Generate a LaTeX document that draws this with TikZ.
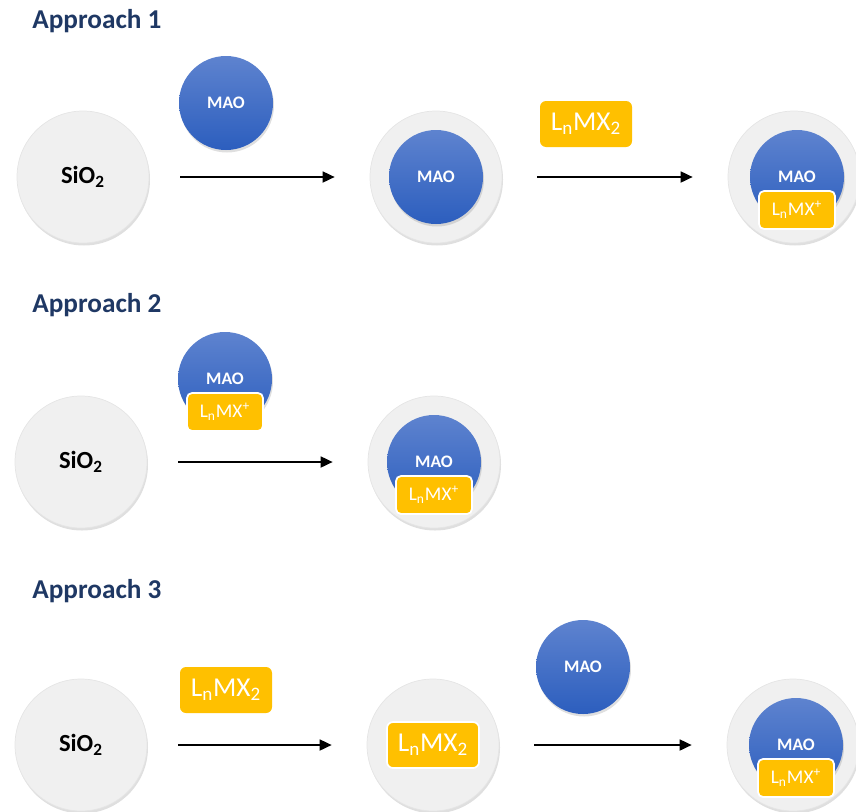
\documentclass[tikz,border=0pt]{standalone}
\usepackage{fontspec}
\setmainfont{Carlito}
\usetikzlibrary{
	positioning,
	arrows.meta,
	shadows
}
\definecolor{titleblue}{RGB}{31,56,100}
\definecolor{maotop}{RGB}{94,131,207}
\definecolor{maobot}{RGB}{44,94,190}
\definecolor{silica}{RGB}{240,240,240}
\definecolor{metal}{RGB}{255,192,0}

\begin{document}
\begin{tikzpicture}[
				title/.style={anchor=west, inner xsep=0pt, text=titleblue, font=\fontsize{15.5}{18}\selectfont\bfseries},
				support/.style={circle, fill=silica, draw=black!10, minimum size=2.64cm, inner sep=0pt, font=\fontsize{14}{16}\selectfont\bfseries, drop shadow={opacity=0.25, shadow xshift=0.02cm, shadow yshift=-0.05cm}},
				mao/.style={circle, top color=maotop, bottom color=maobot, minimum size=1.88cm, inner sep=0pt, text=white, font=\fontsize{10}{12}\selectfont\bfseries, drop shadow={opacity=0.25, shadow xshift=0.02cm, shadow yshift=-0.05cm}},
				cat/.style={rounded corners=0.12cm, fill=metal, text=white, minimum width=1.84cm, minimum height=0.92cm, inner sep=0pt, font=\fontsize{15.5}{18}\selectfont},
				catp/.style={rounded corners=0.1cm, fill=metal, draw=white, line width=1pt, text=white, minimum width=1.52cm, minimum height=0.76cm, inner sep=0pt, font=\fontsize{11}{13}\selectfont},
				react/.style={-{Triangle[length=0.24cm, width=0.22cm]}, line width=1pt}
			]
				\useasboundingbox (0,0) rectangle (17.12,-16.22);
				% 方法一
				\node[title] (title-a) at (0.64,-0.42) {Approach 1};
				\node[support] (sio-a) at (1.66,-3.54) {SiO\textsubscript{2}};
				\node[mao] (mao-a) at (4.52,-2.06) {MAO};
				\node[support] (mid-a) at (8.72,-3.54) {};
				\node[mao] (mid-a-mao) at (mid-a) {MAO};
				\node[cat] (cat-a) at (11.72,-2.48) {L\textsubscript{n}MX\textsubscript{2}};
				\node[support] (end-a) at (15.88,-3.54) {};
				\node[mao] (end-a-mao) at ([xshift=0.06cm]end-a.center) {MAO};
				\node[catp] (end-a-cat) at ([yshift=-0.66cm]end-a-mao.center) {L\textsubscript{n}MX\textsuperscript{+}};
				\draw[react] ([xshift=0.62cm]sio-a.east) -- ([xshift=-0.7cm]mid-a.west);
				\draw[react] ([xshift=0.7cm]mid-a.east) -- ([xshift=-0.7cm]end-a.west);
				% 方法二
				\node[title] (title-b) at (0.64,-6.10) {Approach 2};
				\node[support] (sio-b) at (1.62,-9.24) {SiO\textsubscript{2}};
				\node[mao] (mao-b) at (4.50,-7.58) {MAO};
				\node[catp] (cat-b) at ([yshift=-0.66cm]mao-b.center) {L\textsubscript{n}MX\textsuperscript{+}};
				\node[support] (mid-b) at (8.68,-9.24) {};
				\node[mao] (mid-b-mao) at (mid-b) {MAO};
				\node[catp] (mid-b-cat) at ([yshift=-0.66cm]mid-b-mao.center) {L\textsubscript{n}MX\textsuperscript{+}};
				\draw[react] ([xshift=0.62cm]sio-b.east) -- ([xshift=-0.7cm]mid-b.west);
				% 方法三
				\node[title] (title-c) at (0.64,-11.82) {Approach 3};
				\node[support] (sio-c) at (1.62,-14.90) {SiO\textsubscript{2}};
				\node[cat] (cat-c) at (4.52,-13.80) {L\textsubscript{n}MX\textsubscript{2}};
				\node[support] (mid-c) at (8.66,-14.90) {};
				\node[cat, draw=white, line width=1pt] (mid-c-cat) at (mid-c) {L\textsubscript{n}MX\textsubscript{2}};
				\node[mao] (mao-c) at (11.66,-13.34) {MAO};
				\node[support] (end-c) at (15.86,-14.90) {};
				\node[mao] (end-c-mao) at ([xshift=0.06cm]end-c.center) {MAO};
				\node[catp] (end-c-cat) at ([yshift=-0.66cm]end-c-mao.center) {L\textsubscript{n}MX\textsuperscript{+}};
				\draw[react] ([xshift=0.62cm]sio-c.east) -- ([xshift=-0.7cm]mid-c.west);
				\draw[react] ([xshift=0.7cm]mid-c.east) -- ([xshift=-0.7cm]end-c.west);
			\end{tikzpicture}
\end{document}
